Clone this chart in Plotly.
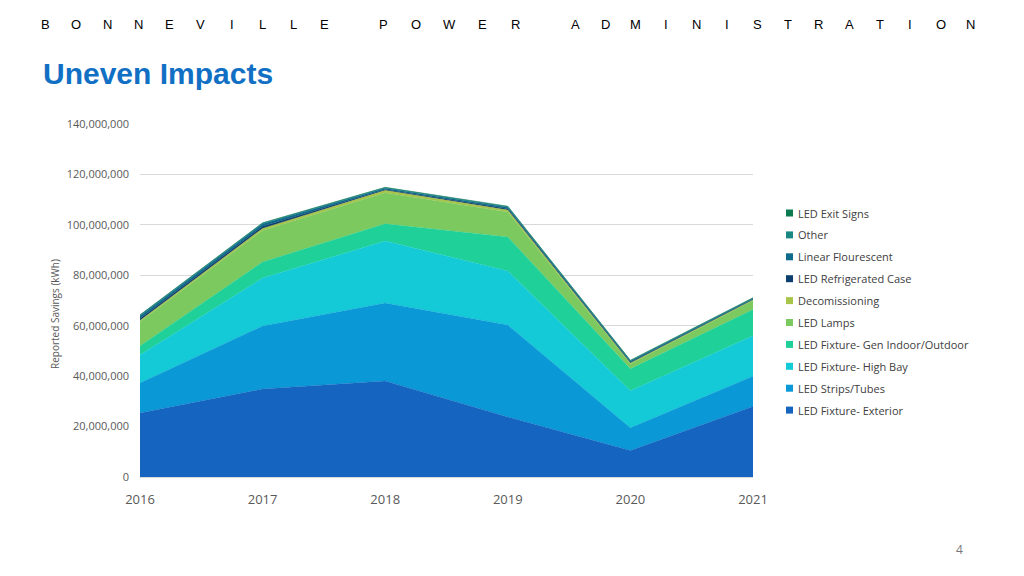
import plotly.graph_objects as go

years = [2016, 2017, 2018, 2019, 2020, 2021]

# series (kWh, stacked bottom -> top)
led_fixture_exterior = [25.4e6, 34.9e6, 38.1e6, 23.8e6, 10.5e6, 28.0e6]
led_strips_tubes = [11.9e6, 25.0e6, 30.9e6, 36.5e6, 9.0e6, 12.0e6]
led_fixture_high_bay = [11.1e6, 19.0e6, 24.6e6, 21.4e6, 14.7e6, 16.0e6]
led_fixture_gen = [3.6e6, 6.4e6, 6.8e6, 13.5e6, 8.7e6, 10.4e6]
led_lamps = [9.6e6, 12.5e6, 12.3e6, 9.9e6, 2.0e6, 3.6e6]
decomissioning = [0.5e6, 0.8e6, 1.0e6, 0.8e6, 0.3e6, 0.3e6]
led_refrigerated_case = [0.8e6, 0.8e6, 0.3e6, 0.5e6, 0.3e6, 0.2e6]
linear_flourescent = [1.0e6, 1.0e6, 0.5e6, 0.6e6, 0.5e6, 0.3e6]
other = [0.3e6, 0.3e6, 0.3e6, 0.3e6, 0.2e6, 0.2e6]
led_exit_signs = [0.1e6, 0.1e6, 0.1e6, 0.1e6, 0.1e6, 0.1e6]

series_names = [
    "LED Fixture- Exterior",
    "LED Strips/Tubes",
    "LED Fixture- High Bay",
    "LED Fixture- Gen Indoor/Outdoor",
    "LED Lamps",
    "Decomissioning",
    "LED Refrigerated Case",
    "Linear Flourescent",
    "Other",
    "LED Exit Signs",
]
series_values = [
    led_fixture_exterior, led_strips_tubes, led_fixture_high_bay, led_fixture_gen,
    led_lamps, decomissioning, led_refrigerated_case, linear_flourescent, other,
    led_exit_signs,
]
series_colors = [
    "#1565C0", "#0A99D6", "#14CAD6", "#1FD198", "#7CC95F",
    "#A8C449", "#0C3F6E", "#106C8C", "#198782", "#0D7A50",
]

y_ticks = [0, 20e6, 40e6, 60e6, 80e6, 100e6, 120e6, 140e6]

fig = go.Figure()
for name, vals, col in zip(series_names, series_values, series_colors):
    fig.add_trace(go.Scatter(
        x=years, y=vals, name=name, mode="lines", stackgroup="one",
        line=dict(width=0.4, color=col), fillcolor=col, showlegend=False,
        hovertemplate="%{y:,.0f}<extra>" + name + "</extra>",
    ))

# plot area in pixels
L, R, T, B = 140, 753, 124, 477
W, H = R - L, B - T

def px(x):
    return (x - L) / W

def py(y):
    return (B - y) / H

annotations = []
shapes = []

# manual legend (top -> bottom = reversed stacking order)
leg_top, leg_step = 213, 21.9
for i, (name, col) in enumerate(zip(series_names[::-1], series_colors[::-1])):
    yc = leg_top + i * leg_step
    shapes.append(dict(type="rect", xref="paper", yref="paper",
                       x0=px(786), x1=px(793), y0=py(yc + 3.5), y1=py(yc - 3.5),
                       fillcolor=col, line=dict(width=0)))
    annotations.append(dict(text=name, xref="paper", yref="paper", x=px(796), y=py(yc),
                            xanchor="left", yanchor="middle", showarrow=False,
                            font=dict(family="Open Sans", size=11, color="#404040")))

# header spaced letters
header_words = [("BONNEVILLE", 45, 31.1), ("POWER", 383, 33.0), ("ADMINISTRATION", 575, 30.46)]
for word, start, step in header_words:
    for j, ch in enumerate(word):
        annotations.append(dict(text=ch, xref="paper", yref="paper", x=px(start + j * step), y=py(24),
                                xanchor="center", yanchor="middle", showarrow=False,
                                font=dict(family="Liberation Sans", size=13, color="#000000")))

annotations.append(dict(text="<b>Uneven Impacts</b>", xref="paper", yref="paper", x=px(41), y=py(73),
                        xanchor="left", yanchor="middle", showarrow=False,
                        font=dict(family="Liberation Sans", size=30, color="#1170C4")))
annotations.append(dict(text="Reported Savings (kWh)", xref="paper", yref="paper", x=px(55), y=py(314),
                        xanchor="center", yanchor="middle", showarrow=False, textangle=-90,
                        font=dict(family="Open Sans", size=10, color="#595959")))
annotations.append(dict(text="4", xref="paper", yref="paper", x=px(960), y=py(549),
                        xanchor="center", yanchor="middle", showarrow=False,
                        font=dict(family="Open Sans", size=12, color="#777777")))

fig.update_layout(
    width=1024, height=576,
    margin=dict(l=L, r=1024 - R, t=T, b=576 - B),
    paper_bgcolor="white", plot_bgcolor="white",
    showlegend=False,
    annotations=annotations, shapes=shapes,
    xaxis=dict(range=[2016, 2021], tickvals=years, ticktext=[str(y) for y in years],
               showgrid=False, zeroline=False, showline=True, linecolor="#D9D9D9",
               ticks="", ticklabelstandoff=10,
               tickfont=dict(family="Open Sans", size=13, color="#595959")),
    yaxis=dict(range=[0, 140e6], tickvals=y_ticks, tickformat=",d",
               showgrid=True, gridcolor="#D9D9D9", gridwidth=1, zeroline=False,
               ticks="", ticklabelstandoff=10,
               tickfont=dict(family="Open Sans", size=11, color="#595959")),
)

fig.write_html("out.html", config={"displayModeBar": False},
               post_script="document.body.style.margin='0';document.body.style.padding='0';")
